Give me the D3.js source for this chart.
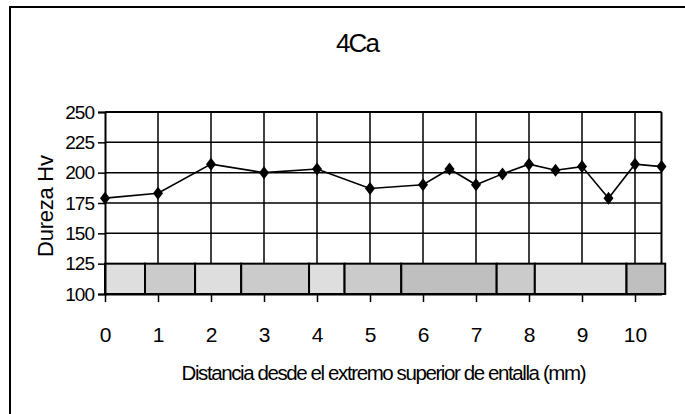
<!DOCTYPE html>
<html>
<head>
<meta charset="utf-8">
<script src="https://cdn.jsdelivr.net/npm/d3@7"></script>
<style>
  html, body { margin: 0; padding: 0; background: #fff; }
  svg { display: block; }
  text { font-family: "Liberation Sans", Arial, sans-serif; fill: #000; }
</style>
</head>
<body>
<svg id="chart" width="685" height="414"></svg>
<script>
// ---- data ----
const title = "4Ca";
const xLabel = "Distancia desde el extremo superior de entalla (mm)";
const yLabel = "Dureza Hv";
const distances = [0, 1, 2, 3, 4, 5, 6, 6.5, 7, 7.5, 8, 8.5, 9, 9.5, 10, 10.5];
const hardness  = [179, 183, 207, 200, 203, 187, 190, 203, 190, 199, 207, 202, 205, 179, 207, 205];
const xTicks = [0, 1, 2, 3, 4, 5, 6, 7, 8, 9, 10];
const yTicks = [100, 125, 150, 175, 200, 225, 250];
// zone bands along the distance axis
const zoneStart = [0, 0.755, 1.70, 2.57, 3.85, 4.52, 5.59, 7.39, 8.11, 9.84];
const zoneEnd   = [0.755, 1.70, 2.57, 3.85, 4.52, 5.59, 7.39, 8.11, 9.84, 10.57];
const zoneType  = ["A", "B", "A", "B", "A", "B", "C", "B", "A", "C"];
const zoneBottom = 100, zoneTop = 125;

// ---- layout ----
const svg = d3.select("#chart");
const x = d3.scaleLinear().domain([0, 10.5]).range([105, 661.5]);
const y = d3.scaleLinear().domain([100, 250]).range([294, 112]);
const zoneColor = d3.scaleOrdinal().domain(["A", "B", "C"]).range(["#dedede", "#cbcbcb", "#bfbfbf"]);

// outer frame
svg.append("rect").attr("x", 10).attr("y", 7).attr("width", 700).attr("height", 440)
  .attr("fill", "none").attr("stroke", "#000").attr("stroke-width", 2);

// title
svg.append("text").attr("x", 358).attr("y", 52).attr("text-anchor", "middle")
  .attr("font-size", 26).attr("textLength", 44).attr("lengthAdjust", "spacing").text(title);

// horizontal gridlines
svg.append("g").selectAll("line").data(yTicks.filter(d => d > 125 && d < 250)).join("line")
  .attr("x1", x(0)).attr("x2", x(10.5)).attr("y1", d => y(d)).attr("y2", d => y(d))
  .attr("stroke", "#000").attr("stroke-width", 1.5);
// vertical gridlines
svg.append("g").selectAll("line").data(xTicks.filter(d => d > 0)).join("line")
  .attr("x1", d => x(d)).attr("x2", d => x(d)).attr("y1", y(250)).attr("y2", y(125))
  .attr("stroke", "#000").attr("stroke-width", 1.5);
// top and right borders of plot
svg.append("line").attr("x1", x(0)).attr("x2", x(10.5)).attr("y1", y(250)).attr("y2", y(250))
  .attr("stroke", "#000").attr("stroke-width", 2);
svg.append("line").attr("x1", x(10.5)).attr("x2", x(10.5)).attr("y1", y(250)).attr("y2", y(125))
  .attr("stroke", "#000").attr("stroke-width", 2);

// zone bands
svg.append("g").selectAll("rect").data(zoneStart.map((s, i) => ({s, e: zoneEnd[i], t: zoneType[i]}))).join("rect")
  .attr("x", d => x(d.s)).attr("width", d => x(d.e) - x(d.s))
  .attr("y", y(zoneTop)).attr("height", y(zoneBottom) - y(zoneTop))
  .attr("fill", d => zoneColor(d.t)).attr("stroke", "#000").attr("stroke-width", 2);

// axes
const yAxis = d3.axisLeft(y).tickValues(yTicks).tickSize(7).tickPadding(4);
const gy = svg.append("g").attr("transform", `translate(${x(0)},0)`).call(yAxis);
gy.select(".domain").attr("stroke-width", 2);
gy.selectAll(".tick line").attr("stroke-width", 1.5);
gy.selectAll("text").attr("font-size", 19).attr("letter-spacing", -1)
  .attr("font-family", "Liberation Sans, Arial, sans-serif");

const xAxis = d3.axisBottom(x).tickValues(xTicks).tickSize(8).tickPadding(25).tickSizeOuter(0);
const gx = svg.append("g").attr("transform", `translate(0,${y(100)})`).call(xAxis);
gx.select(".domain").attr("stroke-width", 2);
gx.selectAll(".tick line").attr("stroke-width", 1.5);
gx.selectAll("text").attr("font-size", 21).attr("font-family", "Liberation Sans, Arial, sans-serif");

// axis labels
svg.append("text").attr("transform", "translate(53,206) rotate(-90)").attr("text-anchor", "middle")
  .attr("font-size", 22).attr("textLength", 102).attr("lengthAdjust", "spacing").text(yLabel);
svg.append("text").attr("x", 384).attr("y", 380).attr("text-anchor", "middle")
  .attr("font-size", 20.5).attr("textLength", 405).attr("lengthAdjust", "spacing").text(xLabel);

// line + markers
const pts = distances.map((d, i) => [d, hardness[i]]);
svg.append("path").datum(pts)
  .attr("d", d3.line().x(d => x(d[0])).y(d => y(d[1])))
  .attr("fill", "none").attr("stroke", "#000").attr("stroke-width", 1.6);
svg.append("g").selectAll("path").data(pts).join("path")
  .attr("transform", d => `translate(${x(d[0])},${y(d[1])})`)
  .attr("d", "M0,-6.5L5,0L0,6.5L-5,0Z").attr("fill", "#000");
</script>
</body>
</html>
